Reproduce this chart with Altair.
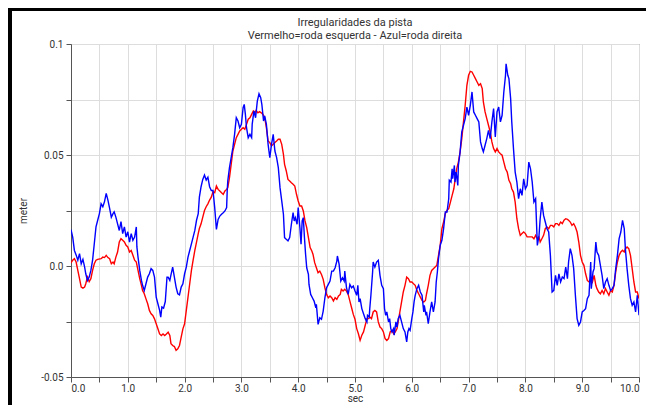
import altair as alt
import pandas as pd

blue_t = [0.00,0.03,0.06,0.09,0.12,0.15,0.18,0.21,0.24,0.26,0.29,0.32,0.35,0.38,0.41,0.44,0.47,0.50,0.53,0.56,0.59,0.62,0.65,0.68,0.71,0.74,0.76,0.79,0.82,0.85,0.88,0.91,0.94,0.97,1.00,1.03,1.06,1.09,1.12,1.15,1.16,1.18,1.21,1.24,1.26,1.29,1.32,1.35,1.38,1.41,1.44,1.47,1.50,1.53,1.56,1.58,1.60,1.63,1.66,1.69,1.71,1.74,1.76,1.79,1.82,1.85,1.88,1.91,1.94,1.97,2.00,2.03,2.06,2.09,2.12,2.15,2.18,2.21,2.24,2.26,2.29,2.32,2.35,2.38,2.41,2.44,2.47,2.50,
          2.53,2.56,2.59,2.62,2.65,2.68,2.71,2.74,2.75,2.76,2.79,2.82,2.85,2.88,2.91,2.94,2.97,3.00,3.03,3.05,3.07,3.09,3.12,3.15,3.18,3.19,3.22,3.25,3.28,3.31,3.34,3.36,3.39,3.41,3.44,3.47,3.50,3.53,3.56,3.59,3.62,3.65,3.68,3.71,3.74,3.76,3.79,3.82,3.85,3.88,3.91,3.93,3.95,3.98,4.00,4.03,4.05,4.07,4.09,4.11,4.13,4.15,4.18,4.19,4.22,4.25,4.28,4.31,4.32,4.35,4.38,4.41,4.44,4.47,4.50,4.53,4.56,4.59,4.62,4.65,4.68,4.69,4.72,4.75,4.78,4.81,4.82,4.85,4.88,4.91,4.94,4.97,5.00,
          5.03,5.05,5.07,5.09,5.12,5.15,5.18,5.21,5.22,5.25,5.26,5.28,5.31,5.32,5.35,5.38,5.41,5.44,5.47,5.50,5.52,5.54,5.56,5.59,5.61,5.63,5.65,5.68,5.69,5.72,5.74,5.76,5.79,5.82,5.85,5.88,5.91,5.93,5.95,5.97,6.00,6.02,6.04,6.06,6.09,6.12,6.15,6.18,6.21,6.22,6.25,6.26,6.29,6.32,6.35,6.38,6.41,6.43,6.45,6.47,6.50,6.53,6.56,6.59,6.62,6.65,6.66,6.69,6.71,6.72,6.75,6.76,6.78,6.81,6.82,6.85,6.88,6.91,6.94,6.97,7.00,7.03,7.06,7.09,7.12,7.15,7.18,7.21,7.24,7.26,7.29,7.32,7.35,7.38,7.41,7.44,7.47,7.50,
          7.53,7.56,7.59,7.62,7.65,7.66,7.69,7.71,7.74,7.76,7.79,7.82,7.85,7.88,7.91,7.94,7.97,8.00,8.03,8.06,8.09,8.12,8.15,8.18,8.21,8.24,8.26,8.29,8.32,8.35,8.38,8.41,8.44,8.47,8.50,8.53,8.56,8.59,8.62,8.65,8.68,8.71,8.74,8.76,8.79,8.82,8.85,8.88,8.91,8.94,8.97,9.00,9.03,9.06,9.09,9.12,9.15,9.16,9.19,9.21,9.24,9.26,9.29,9.32,9.35,9.38,9.41,9.44,9.47,9.50,9.53,9.56,9.59,9.62,9.65,9.68,9.71,9.74,9.76,9.79,9.82,9.85,9.88,9.91,9.94,9.97,10.00]
blue_v = [0.0164,0.013,0.007,0.005,0.0026,0.0056,0.001,0.003,-0.0005,-0.0035,-0.0065,-0.005,-0.002,0.0026,0.010,0.0176,0.0206,0.0236,0.028,0.0267,0.029,0.0327,0.0297,0.026,0.022,0.0236,0.0244,0.022,0.019,0.016,0.020,0.0146,0.0176,0.013,0.0154,0.0108,0.0146,0.0116,0.013,0.0176,0.0086,0.004,-0.002,-0.0065,-0.0087,-0.011,-0.008,-0.005,-0.0035,-0.0012,-0.002,-0.005,-0.014,-0.017,-0.020,-0.023,-0.0185,-0.019,-0.016,-0.005,-0.005,-0.0065,-0.004,-0.0005,-0.005,-0.0095,-0.0125,-0.013,-0.0095,-0.008,-0.0035,-0.0005,0.004,0.007,0.010,0.013,0.016,0.0206,0.0236,0.031,0.0357,0.039,0.041,0.0387,0.040,0.0357,0.034,0.034,
          0.0263,0.0165,0.021,0.0225,0.0233,0.024,0.0248,0.0263,0.0338,0.0383,0.0443,0.0488,0.0533,0.0593,0.0668,0.0653,0.0623,0.0638,0.0713,0.0728,0.0683,0.0623,0.0578,0.0593,0.0578,0.0638,0.0698,0.0668,0.0743,0.0776,0.0758,0.0728,0.0653,0.0676,0.0638,0.0548,0.0488,0.0548,0.0593,0.0518,0.0488,0.0443,0.0353,0.0293,0.0233,0.0128,0.012,0.0113,0.0128,0.0188,0.024,0.0203,0.0218,0.0188,0.0263,0.0173,0.0098,0.0203,0.0218,0.0128,0.0053,-0.0008,-0.0038,-0.0083,-0.0128,-0.0143,-0.0158,-0.0188,-0.0173,-0.0263,-0.0233,-0.024,-0.0203,-0.0143,-0.0098,-0.0083,-0.0068,-0.0023,-0.0023,-0.0008,0.0022,0.0045,0.0008,-0.0068,-0.0053,-0.0068,-0.0023,-0.0098,-0.0128,-0.0083,-0.0098,-0.009,-0.0113,
          -0.0132,-0.0087,-0.0162,-0.0147,-0.0192,-0.0215,-0.0237,-0.0252,-0.0222,-0.023,-0.0192,-0.0132,-0.0027,0.0018,-0.0005,0.0018,0.0026,-0.0042,-0.0087,-0.0102,-0.0192,-0.0222,-0.0207,-0.0252,-0.0237,-0.0282,-0.0297,-0.0282,-0.0312,-0.0252,-0.0275,-0.0237,-0.0222,-0.0252,-0.0282,-0.0297,-0.0342,-0.0297,-0.0282,-0.029,-0.0237,-0.0207,-0.0162,-0.0132,-0.0102,-0.0087,-0.0117,-0.0132,-0.0207,-0.0177,-0.0222,-0.0207,-0.026,-0.0207,-0.0162,-0.0207,-0.0162,-0.0072,-0.0027,0.0033,0.0093,0.0116,0.0168,0.0243,0.0243,0.0303,0.0386,0.0378,0.0438,0.0393,0.0453,0.0378,0.0423,0.0363,0.0453,0.0513,0.0604,0.0634,0.0664,0.0716,0.0679,0.0724,0.0784,0.0694,0.0679,0.0664,0.0649,0.0559,0.0529,0.0514,0.0544,0.0574,0.0611,0.0574,0.0649,0.0709,0.0581,0.0694,
          0.0716,0.0649,0.0679,0.0784,0.0859,0.0911,0.0859,0.0844,0.0754,0.0649,0.0529,0.0423,0.0378,0.0303,0.0348,0.0318,0.0393,0.0348,0.0363,0.0468,0.0438,0.0378,0.0288,0.0303,0.0093,0.0138,0.0213,0.0288,0.0228,0.0198,0.0168,0.0153,0.0048,-0.0117,-0.011,-0.0042,-0.0087,-0.0035,-0.0072,-0.005,-0.0057,-0.0005,-0.0057,0.0018,0.0078,0.0048,-0.0012,-0.0132,-0.0237,-0.0267,-0.0252,-0.0207,-0.02,-0.0192,-0.0147,-0.0132,0.0018,-0.0102,-0.0027,-0.0012,0.0108,0.0063,0.0048,0.0003,-0.0042,-0.0102,-0.0072,-0.0057,-0.0087,-0.011,-0.0102,-0.0087,-0.0012,0.0048,0.0123,0.0153,0.0206,0.0168,0.0078,-0.0012,-0.0087,-0.0147,-0.0177,-0.0162,-0.0207,-0.0132,-0.0222]

red_t = [0.00,0.03,0.06,0.09,0.12,0.15,0.18,0.21,0.24,0.26,0.29,0.32,0.35,0.38,0.41,0.44,0.47,0.53,0.56,0.59,0.62,0.65,0.68,0.71,0.74,0.76,0.79,0.82,0.85,0.88,0.91,0.94,0.97,1.00,1.03,1.06,1.09,1.12,1.15,1.18,1.21,1.24,1.26,1.29,1.32,1.35,1.38,1.41,1.44,1.47,1.50,1.53,1.56,1.59,1.62,1.65,1.68,1.71,1.74,1.76,1.79,1.82,1.85,1.88,1.91,1.94,1.97,2.00,2.03,2.06,2.09,2.12,2.15,2.18,2.21,2.24,2.26,2.29,2.32,2.35,2.38,2.41,2.44,2.47,2.50,
         2.53,2.56,2.59,2.62,2.65,2.68,2.71,2.74,2.76,2.79,2.82,2.85,2.88,2.91,2.94,2.97,3.00,3.03,3.06,3.09,3.12,3.15,3.18,3.21,3.24,3.26,3.29,3.32,3.35,3.38,3.41,3.44,3.47,3.50,3.53,3.56,3.59,3.62,3.65,3.68,3.71,3.74,3.76,3.79,3.82,3.85,3.88,3.91,3.94,3.97,4.00,4.03,4.06,4.09,4.12,4.15,4.18,4.21,4.24,4.26,4.29,4.32,4.35,4.38,4.41,4.44,4.47,4.50,4.53,4.56,4.59,4.62,4.65,4.68,4.71,4.74,4.76,4.79,4.82,4.85,4.88,4.91,4.94,4.97,5.00,
         5.03,5.06,5.09,5.12,5.15,5.18,5.21,5.24,5.26,5.29,5.32,5.35,5.38,5.41,5.44,5.47,5.50,5.53,5.56,5.59,5.62,5.65,5.68,5.71,5.74,5.76,5.79,5.82,5.85,5.88,5.91,5.94,5.97,6.00,6.03,6.06,6.09,6.12,6.15,6.18,6.21,6.24,6.26,6.29,6.32,6.35,6.38,6.41,6.44,6.47,6.50,6.53,6.56,6.59,6.62,6.65,6.68,6.71,6.74,6.76,6.79,6.82,6.85,6.88,6.91,6.94,6.97,7.00,7.03,7.06,7.09,7.12,7.15,7.18,7.21,7.24,7.26,7.29,7.32,7.35,7.38,7.41,7.44,7.47,7.50,
         7.53,7.56,7.59,7.62,7.65,7.68,7.71,7.74,7.76,7.79,7.82,7.85,7.88,7.91,7.94,7.97,8.00,8.03,8.06,8.09,8.12,8.15,8.18,8.21,8.24,8.26,8.29,8.32,8.35,8.38,8.41,8.44,8.47,8.50,8.53,8.56,8.59,8.62,8.65,8.68,8.71,8.74,8.76,8.79,8.82,8.85,8.88,8.91,8.94,8.97,9.00,9.03,9.06,9.09,9.12,9.15,9.18,9.21,9.24,9.26,9.29,9.32,9.35,9.38,9.41,9.44,9.47,9.50,9.53,9.56,9.59,9.62,9.65,9.68,9.71,9.74,9.76,9.79,9.82,9.85,9.88,9.91,9.94,9.97,10.00]
red_v = [0.0014,0.0026,0.0033,0.0018,-0.002,-0.0057,-0.0095,-0.010,-0.0095,-0.008,-0.005,-0.007,-0.0057,-0.002,0.001,0.0026,0.003,0.0033,0.004,0.0038,0.0048,0.0038,0.0033,0.001,0.0018,0.001,0.004,0.0063,0.0108,0.0123,0.0116,0.0108,0.0093,0.0086,0.0063,0.007,0.0048,0.0026,0.0018,-0.002,-0.0057,-0.0087,-0.011,-0.0125,-0.0148,-0.017,-0.020,-0.0215,-0.0223,-0.0238,-0.026,-0.0283,-0.0306,-0.0313,-0.0306,-0.0313,-0.0306,-0.0298,-0.0313,-0.035,-0.0358,-0.0363,-0.038,-0.0373,-0.0358,-0.032,-0.0283,-0.026,-0.020,-0.014,-0.008,-0.002,0.0026,0.007,0.0108,0.0146,0.0169,0.019,0.022,0.025,0.0267,0.028,0.0297,0.031,0.0334,
         0.033,0.036,0.0345,0.0338,0.033,0.0323,0.0338,0.0345,0.0353,0.0398,0.0458,0.0518,0.0548,0.0578,0.0593,0.0608,0.0616,0.0623,0.0616,0.0638,0.0661,0.0668,0.0683,0.0698,0.069,0.0701,0.069,0.0695,0.069,0.0683,0.0668,0.0623,0.0563,0.0556,0.0541,0.0548,0.0556,0.0563,0.0571,0.0571,0.0548,0.0503,0.0458,0.0428,0.039,0.0383,0.0375,0.0368,0.036,0.0323,0.0293,0.027,0.027,0.0248,0.0203,0.0173,0.0128,0.0083,0.0068,0.0053,0.0015,-0.0008,-0.003,-0.0023,-0.0038,-0.006,-0.0098,-0.0128,-0.0143,-0.0135,-0.0143,-0.0158,-0.0143,-0.015,-0.0135,-0.0128,-0.0105,-0.0113,-0.0105,-0.0113,-0.0128,-0.0158,-0.0188,-0.0218,-0.024,
         -0.0282,-0.0305,-0.0335,-0.0312,-0.0297,-0.0267,-0.0237,-0.0237,-0.023,-0.0237,-0.0207,-0.020,-0.0207,-0.0252,-0.0275,-0.0282,-0.0297,-0.0327,-0.0335,-0.0327,-0.0297,-0.029,-0.0305,-0.0297,-0.0282,-0.0252,-0.0207,-0.0162,-0.0117,-0.0087,-0.005,-0.0057,-0.0072,-0.0072,-0.008,-0.0087,-0.011,-0.0125,-0.014,-0.0155,-0.0162,-0.0155,-0.0125,-0.0087,-0.0042,-0.002,-0.0012,-0.0005,0.0003,0.0048,0.0093,0.0168,0.0198,0.0236,0.0251,0.0258,0.0288,0.0318,0.0348,0.0386,0.0438,0.0468,0.0513,0.0574,0.0649,0.0724,0.0814,0.0859,0.0877,0.0874,0.0859,0.0844,0.0829,0.0814,0.0821,0.0799,0.0739,0.0694,0.0664,0.0634,0.0604,0.0559,0.0529,0.0514,0.0529,
         0.0514,0.0506,0.0499,0.0468,0.0438,0.0423,0.0386,0.0371,0.0348,0.0333,0.0288,0.0213,0.0168,0.0138,0.0146,0.0153,0.0146,0.0131,0.0131,0.0131,0.0131,0.0123,0.0138,0.0123,0.0131,0.0108,0.0123,0.0138,0.0168,0.0176,0.0168,0.0183,0.0183,0.0176,0.0191,0.0191,0.0183,0.0198,0.0191,0.0206,0.0213,0.021,0.0206,0.0198,0.0183,0.0191,0.0176,0.0153,0.0108,0.0048,0.0018,0.0003,-0.0035,-0.0065,-0.0072,-0.0057,-0.0072,-0.0042,-0.0087,-0.0102,-0.0117,-0.0125,-0.011,-0.0125,-0.0102,-0.0117,-0.0132,-0.011,-0.0117,-0.0087,-0.0027,0.0018,0.0048,0.0063,0.0071,0.0063,0.0078,0.0086,0.0078,0.0048,-0.0012,-0.0072,-0.0117,-0.0117,-0.0147]

x_ticks = [i * 0.5 for i in range(21)]
y_ticks = [-0.05, -0.025, 0.0, 0.025, 0.05, 0.075, 0.1]

df = pd.concat([
    pd.DataFrame({"t": red_t, "v": red_v, "s": "esquerda"}),
    pd.DataFrame({"t": blue_t, "v": blue_v, "s": "direita"}),
])

FONT = "Roboto"

lines = alt.Chart(df).mark_line(strokeWidth=1.4, clip=True).encode(
    x=alt.X("t:Q", scale=alt.Scale(domain=[0, 10], nice=False),
            axis=alt.Axis(values=x_ticks, title="sec", grid=True,
                          labelExpr="datum.value % 1 == 0 ? format(datum.value, '.1f') : ''",
                          tickSize=5, labelPadding=1, titlePadding=0)),
    y=alt.Y("v:Q", scale=alt.Scale(domain=[-0.05, 0.1], nice=False, zero=False),
            axis=alt.Axis(values=y_ticks, title="meter", grid=True,
                          labelExpr="abs(datum.value*1000 % 50) > 1 ? '' : (datum.value == 0 ? '0.0' : '' + datum.value)",
                          tickSize=5, labelPadding=3, titlePadding=12)),
    color=alt.Color("s:N", scale=alt.Scale(domain=["esquerda", "direita"], range=["#ff0000", "#0000ff"]), legend=None),
    detail="s:N",
)

frame_top = alt.Chart(df).mark_rule(color="black", strokeWidth=3, clip=False).encode(
    x=alt.value(-63), x2=alt.value(582), y=alt.value(-35))
frame_left = alt.Chart(df).mark_rule(color="black", strokeWidth=3, clip=False).encode(
    x=alt.value(-61), y=alt.value(-36), y2=alt.value(361))

chart = alt.layer(frame_top, frame_left, lines).properties(
    width=568, height=333,
    title=alt.TitleParams(text="Irregularidades da pista",
                          subtitle="Vermelho=roda esquerda - Azul=roda direita",
                          anchor="middle", fontSize=11, subtitleFontSize=11,
                          font=FONT, subtitleFont=FONT, fontWeight="normal",
                          color="#333", subtitleColor="#333", subtitlePadding=2,
                          offset=0, dy=34),
    padding={"left": 63, "top": 36, "right": 7, "bottom": 28},
    autosize=alt.AutoSizeParams(type="none"),
).configure_view(stroke="#666", strokeWidth=1).configure_axis(
    gridColor="#dddddd", domainColor="#555", tickColor="#555",
    labelColor="#333", titleColor="#333", labelFont=FONT, titleFont=FONT,
    labelFontSize=10, titleFontSize=10, titleFontWeight="normal",
)

chart.save("out.html", embed_options={"renderer": "svg", "actions": False})
